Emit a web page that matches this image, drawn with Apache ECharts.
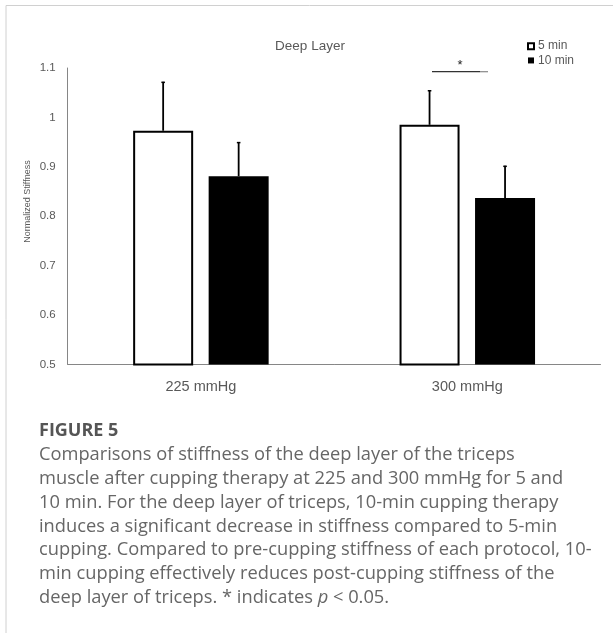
<!DOCTYPE html>
<html><head><meta charset="utf-8">
<script src="https://cdn.jsdelivr.net/npm/echarts@6/dist/echarts.min.js"></script>
<style>html,body{margin:0;padding:0;background:#fff;}#c{width:613px;height:633px;}</style>
</head><body><div id="c"></div>
<script>
const categories = ['225 mmHg', '300 mmHg'];
const seriesNames = ['5 min', '10 min'];
const means5 = [0.973, 0.985];
const means10 = [0.881, 0.837];
const errTop5 = [1.072, 1.055];
const errTop10 = [0.950, 0.902];
const yTicks = [0.5, 0.6, 0.7, 0.8, 0.9, 1, 1.1];
const sigLevel = 1.0925;
const chartTitle = 'Deep Layer';
const yName = 'Normalized Stiffness';
const captionTitle = 'FIGURE 5';
const captionLines = [
  'Comparisons of stiffness of the deep layer of the triceps',
  'muscle after cupping therapy at 225 and 300 mmHg for 5 and',
  '10 min. For the deep layer of triceps, 10-min cupping therapy',
  'induces a significant decrease in stiffness compared to 5-min',
  'cupping. Compared to pre-cupping stiffness of each protocol, 10-',
  'min cupping effectively reduces post-cupping stiffness of the',
  'deep layer of triceps. * indicates {i|p} < 0.05.'
];

const BAR_W = 60, GAP = 15.5;
const OFF = (BAR_W + GAP) / 2;
const gray = '#595959';
const font = '"Liberation Sans", Arial, sans-serif';
const capFont = '"Open Sans", sans-serif';

function errSeries(tops, means, off) {
  return {
    type: 'custom',
    silent: true,
    z: 5,
    data: tops.map((t, i) => [i, means[i], t]),
    renderItem: function (params, api) {
      const b = api.coord([api.value(0), api.value(1)]);
      const t = api.coord([api.value(0), api.value(2)]);
      const x = b[0] + off;
      return {
        type: 'group',
        children: [
          { type: 'line', shape: { x1: x, y1: b[1], x2: x, y2: t[1] }, style: { stroke: '#000', lineWidth: 1.8 } },
          { type: 'line', shape: { x1: x - 1.8, y1: t[1] + 0.5, x2: x + 1.8, y2: t[1] + 0.5 }, style: { stroke: '#000', lineWidth: 1.5 } }
        ]
      };
    }
  };
}

const chart = echarts.init(document.getElementById('c'));
chart.setOption({
  animation: false,
  backgroundColor: '#fff',
  legend: {
    orient: 'vertical', left: 522, top: 34,
    itemWidth: 6, itemHeight: 6, itemGap: 0,
    icon: 'rect',
    data: seriesNames,
    textStyle: { fontFamily: font, fontSize: 12, lineHeight: 14.3, color: gray, padding: [0, 0, 0, -1] }
  },
  grid: { left: 67.7, right: 12.5, top: 68, bottom: 268.6 },
  xAxis: {
    type: 'category', data: categories,
    axisLine: { lineStyle: { color: '#868686', width: 1 } },
    axisTick: { show: false },
    axisLabel: { fontFamily: font, fontSize: 14.5, color: gray, margin: 15 }
  },
  yAxis: {
    type: 'value', min: yTicks[0], max: yTicks[yTicks.length - 1], interval: 0.1,
    axisLine: { show: true, lineStyle: { color: '#868686', width: 1 } },
    axisTick: { show: false },
    splitLine: { show: false },
    axisLabel: { fontFamily: font, fontSize: 11.5, color: gray, margin: 12 }
  },
  series: [
    {
      name: seriesNames[0], type: 'bar', data: means5, barWidth: BAR_W, barGap: (GAP / BAR_W * 100) + '%',
      itemStyle: { color: '#fff', borderColor: '#000', borderWidth: 2 }
    },
    {
      name: seriesNames[1], type: 'bar', data: means10, barWidth: BAR_W,
      itemStyle: { color: '#000', borderColor: '#000', borderWidth: 0 }
    },
    errSeries(errTop5, means5, -OFF),
    errSeries(errTop10, means10, OFF),
    {
      type: 'custom', silent: true, z: 5,
      data: [[1, sigLevel]],
      renderItem: function (params, api) {
        const p = api.coord([api.value(0), api.value(1)]);
        return {
          type: 'group',
          children: [
            { type: 'line', shape: { x1: p[0] - 35.3, y1: p[1], x2: p[0] + 12.7, y2: p[1] }, style: { stroke: '#333', lineWidth: 1.2 } },
            { type: 'line', shape: { x1: p[0] + 12.7, y1: p[1], x2: p[0] + 20.7, y2: p[1] }, style: { stroke: '#888', lineWidth: 1.2 } },
            { type: 'text', style: { text: '*', x: p[0] - 7.3, y: p[1] - 6.5, align: 'center', verticalAlign: 'middle', fontFamily: font, fontSize: 13, fill: '#222' } }
          ]
        };
      }
    }
  ],
  graphic: [
    { type: 'line', shape: { x1: 6, y1: 5.5, x2: 613, y2: 5.5 }, style: { stroke: '#d0d0d0', lineWidth: 1 } },
    { type: 'line', shape: { x1: 6, y1: 5.5, x2: 6, y2: 633 }, style: { stroke: '#d0d0d0', lineWidth: 1 } },
    { type: 'text', x: 310, y: 46, style: { text: chartTitle, align: 'center', verticalAlign: 'middle', fontFamily: font, fontSize: 13.5, fill: gray } },
    { type: 'text', x: 27.5, y: 201.5, rotation: Math.PI / 2, style: { text: yName, align: 'center', verticalAlign: 'middle', fontFamily: font, fontSize: 9, fill: gray } },
    { type: 'text', x: 39, y: 431, style: { text: captionTitle, verticalAlign: 'middle', fontFamily: capFont, fontSize: 18, fontWeight: 'bold', fill: '#555' } },
    { type: 'text', x: 39, y: 443.1, style: {
        text: captionLines.join('\n'), fontFamily: capFont, fontSize: 18.3, lineHeight: 23.8, fill: '#666',
        rich: { i: { fontStyle: 'italic', fontFamily: capFont, fontSize: 18.3, lineHeight: 23.8, fill: '#666' } }
    } }
  ]
});
</script></body></html>
